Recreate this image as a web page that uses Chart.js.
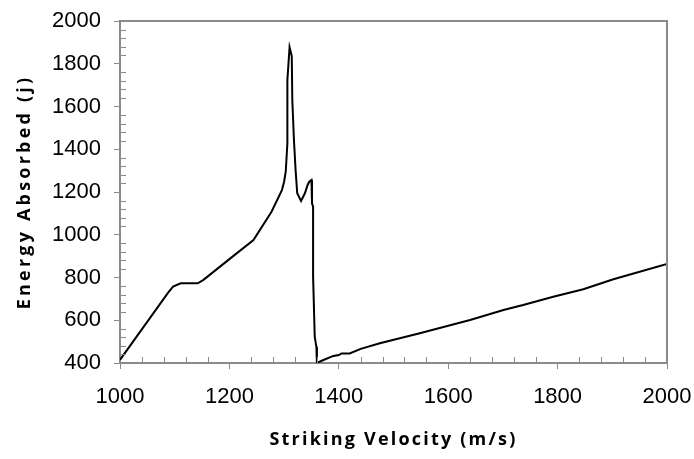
<!DOCTYPE html>
<html>
<head>
<meta charset="utf-8">
<script src="https://cdn.jsdelivr.net/npm/chart.js@4"></script>
<style>
  html, body { margin: 0; padding: 0; background: #fff; }
  #wrap { width: 694px; height: 459px; }
</style>
</head>
<body>
<div id="wrap"><canvas id="chart"></canvas></div>
<script>
"use strict";

// striking velocity (m/s) and energy absorbed (j)
const velocity = [1000, 1088, 1097, 1111, 1142, 1152, 1200, 1244, 1277, 1296, 1300, 1303, 1306, 1306,
    1310, 1314, 1315, 1318, 1321, 1324, 1331, 1338, 1343, 1346, 1350, 1351, 1353, 1353, 1356, 1359,
    1360, 1372, 1390, 1400, 1405, 1420, 1440, 1475, 1548, 1640, 1701, 1737, 1792, 1847, 1902, 2000];
const energy = [415, 729, 757, 773, 773, 788, 886, 975, 1108, 1209, 1248, 1295, 1428, 1724,
    1877, 1836, 1630, 1443, 1303, 1194, 1158, 1194, 1233, 1248, 1256, 1147, 1131, 804, 523, 476,
    400, 414, 433, 437, 445, 445, 466, 492, 539, 601, 648, 671, 710, 745, 792, 863];

const xTicks = [1000, 1200, 1400, 1600, 1800, 2000];
const yTicks = [400, 600, 800, 1000, 1200, 1400, 1600, 1800, 2000];
const minorStep = 40;

const xTitle = "Striking Velocity (m/s)";
const yTitle = "Energy Absorbed (j)";

const axisColor = "#8a8a8a";
const titleFont = "bold 18px 'Open Sans'";

//box around plot area, small inward ticks, and the two axis titles
const frameTicks = {
    id: "frameTicks",
    afterDraw(chart) {
        const ctx = chart.ctx;
        const a = chart.chartArea;
        const xs = chart.scales.x;
        const ys = chart.scales.y;
        ctx.save();
        ctx.strokeStyle = axisColor;
        ctx.lineWidth = 2;
        ctx.beginPath();
        ctx.moveTo(a.left, a.top);
        ctx.lineTo(a.right, a.top);
        ctx.lineTo(a.right, a.bottom);
        ctx.stroke();

        ctx.lineWidth = 1;
        ctx.beginPath();
        for (let v = xs.min + minorStep; v < xs.max; v += minorStep) {
            if ((v - xs.min) % 200 === 0) continue;
            const px = Math.round(xs.getPixelForValue(v)) + 0.5;
            ctx.moveTo(px, a.bottom);
            ctx.lineTo(px, a.bottom - 6);
        }
        for (let v = ys.min + minorStep; v < ys.max; v += minorStep) {
            if ((v - ys.min) % 200 === 0) continue;
            const py = Math.round(ys.getPixelForValue(v)) + 0.5;
            ctx.moveTo(a.left, py);
            ctx.lineTo(a.left + 6, py);
        }
        ctx.stroke();

        // titles, letter-spaced like the original
        ctx.fillStyle = "#000";
        ctx.font = titleFont;
        ctx.textAlign = "center";
        ctx.textBaseline = "middle";
        ctx.letterSpacing = "2.2px";
        ctx.fillText(xTitle, (a.left + a.right) / 2, 440);

        ctx.letterSpacing = "3.2px";
        ctx.translate(25, (a.top + a.bottom) / 2);
        ctx.rotate(-Math.PI / 2);
        ctx.fillText(yTitle, 0, 0);
        ctx.restore();
    }
};

const points = velocity.map((v, i) => ({ x: v, y: energy[i] }));

new Chart(document.getElementById("chart"), {
    type: "scatter",
    data: {
        datasets: [{
            data: points,
            showLine: true,
            borderColor: "#000",
            borderWidth: 2,
            pointRadius: 0,
            tension: 0,
            fill: false
        }]
    },
    options: {
        responsive: true,
        maintainAspectRatio: false,
        animation: false,
        layout: { padding: { top: 21, right: 27, left: 0, bottom: 0 } },
        plugins: { legend: { display: false }, tooltip: { enabled: false } },
        scales: {
            x: {
                type: "linear",
                min: 1000,
                max: 2000,
                afterFit: s => { s.height = 96; s.paddingLeft = 0; s.paddingRight = 0; },
                afterBuildTicks: s => { s.ticks = xTicks.map(v => ({ value: v })); },
                grid: { drawOnChartArea: false, color: axisColor, tickLength: 6, lineWidth: 1 },
                border: { color: axisColor, width: 2 },
                ticks: { color: "#000", padding: 15, maxRotation: 0,
                    callback: v => String(v),
                    font: { family: "'Liberation Sans', Arial", size: 22 } }
            },
            y: {
                min: 400,
                max: 2000,
                afterFit: s => { s.width = 120; s.paddingTop = 0; s.paddingBottom = 0; },
                afterBuildTicks: s => { s.ticks = yTicks.map(v => ({ value: v })); },
                grid: { drawOnChartArea: false, color: axisColor, tickLength: 6, lineWidth: 1 },
                border: { color: axisColor, width: 2 },
                ticks: { color: "#000", padding: 13,
                    callback: v => String(v),
                    font: { family: "'Liberation Sans', Arial", size: 22 } }
            }
        }
    },
    plugins: [frameTicks]
});
</script>
</body>
</html>
